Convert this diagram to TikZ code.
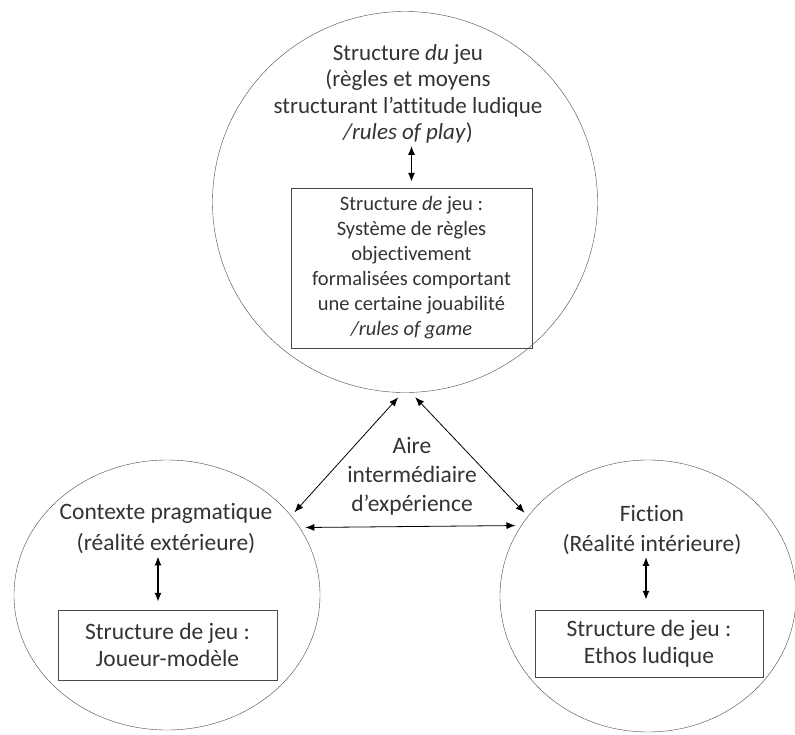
\documentclass[tikz,border=0pt]{standalone}
\usepackage{fontspec}
\setmainfont{Carlito}[Ligatures=NoCommon]
\usetikzlibrary{arrows.meta,shapes,positioning}
\definecolor{textgray}{HTML}{333333}
\definecolor{linegray}{HTML}{4A4A4A}

\begin{document}
\begin{tikzpicture}[x=1pt, y=-1pt, >={Latex[length=9pt,width=7pt]}]
        \tikzstyle{cercle} = [draw=linegray, ellipse, inner sep=0pt, outer sep=5pt]
        \tikzstyle{texte} = [align=center, text=textgray, inner sep=2pt, font=\fontsize{23.5}{31}\selectfont]
        \tikzstyle{block} = [draw=linegray, rectangle, align=center, text=textgray, inner sep=0pt, font=\fontsize{23.5}{27}\selectfont]
        \tikzstyle{fleche} = [<->, black, line width=0.8pt]

        \useasboundingbox (0,0) rectangle (795,734);

        \node [cercle, minimum width=385pt, minimum height=381pt] (dujeu) at (405,202) {};
        \node [cercle, minimum width=306pt, minimum height=270pt] (contexte) at (167,595) {};
        \node [cercle, minimum width=296pt, minimum height=272pt] (fiction) at (648,596) {};

        \node [texte, font=\fontsize{23}{26.5}\selectfont] (regles) at (408,94) {Structure \textit{du} jeu\\(règles et moyens\\structurant l’attitude ludique\\\textit{/rules of play})};
        \node [block, minimum width=241pt, minimum height=160pt, font=\fontsize{20.5}{25}\selectfont] (reglesjeu) at (411.5,268) {Structure \textit{de} jeu :\\Système de règles\\objectivement\\formalisées comportant\\une certaine jouabilité\\\textit{/rules of game}};

        \node [texte] (pragma) at (166,529) {Contexte pragmatique\\(réalité extérieure)};
        \node [block, minimum width=219pt, minimum height=70pt] (joueur) at (167.5,645) {Structure de jeu :\\Joueur-modèle};

        \node [texte, font=\fontsize{23.5}{30}\selectfont] (interieure) at (652,530) {Fiction\\(Réalité intérieure)};
        \node [block, minimum width=228pt, minimum height=67pt] (ethos) at (649,643.5) {Structure de jeu :\\Ethos ludique};

        \node [texte, font=\fontsize{23.5}{29}\selectfont] (aire) at (412,476) {Aire\\intermédiaire\\d’expérience};

        \draw [fleche, line width=1.4pt, shorten >=6pt] (regles.south -| reglesjeu.north) -- (reglesjeu.north);
        \draw [fleche, line width=1.4pt, shorten >=8pt] ([xshift=-8pt]pragma.south) -- ([xshift=-8pt]pragma.south |- joueur.north);
        \draw [fleche, line width=1.4pt, shorten >=10pt] ([xshift=-6pt]interieure.south) -- ([xshift=-6pt]interieure.south |- ethos.north);

        \draw [fleche] (dujeu.268.5) -- (contexte.33);
        \draw [fleche] (dujeu.273) -- (fiction.146);
        \draw [fleche] (contexte.26) -- (fiction.152);
    \end{tikzpicture}
\end{document}
